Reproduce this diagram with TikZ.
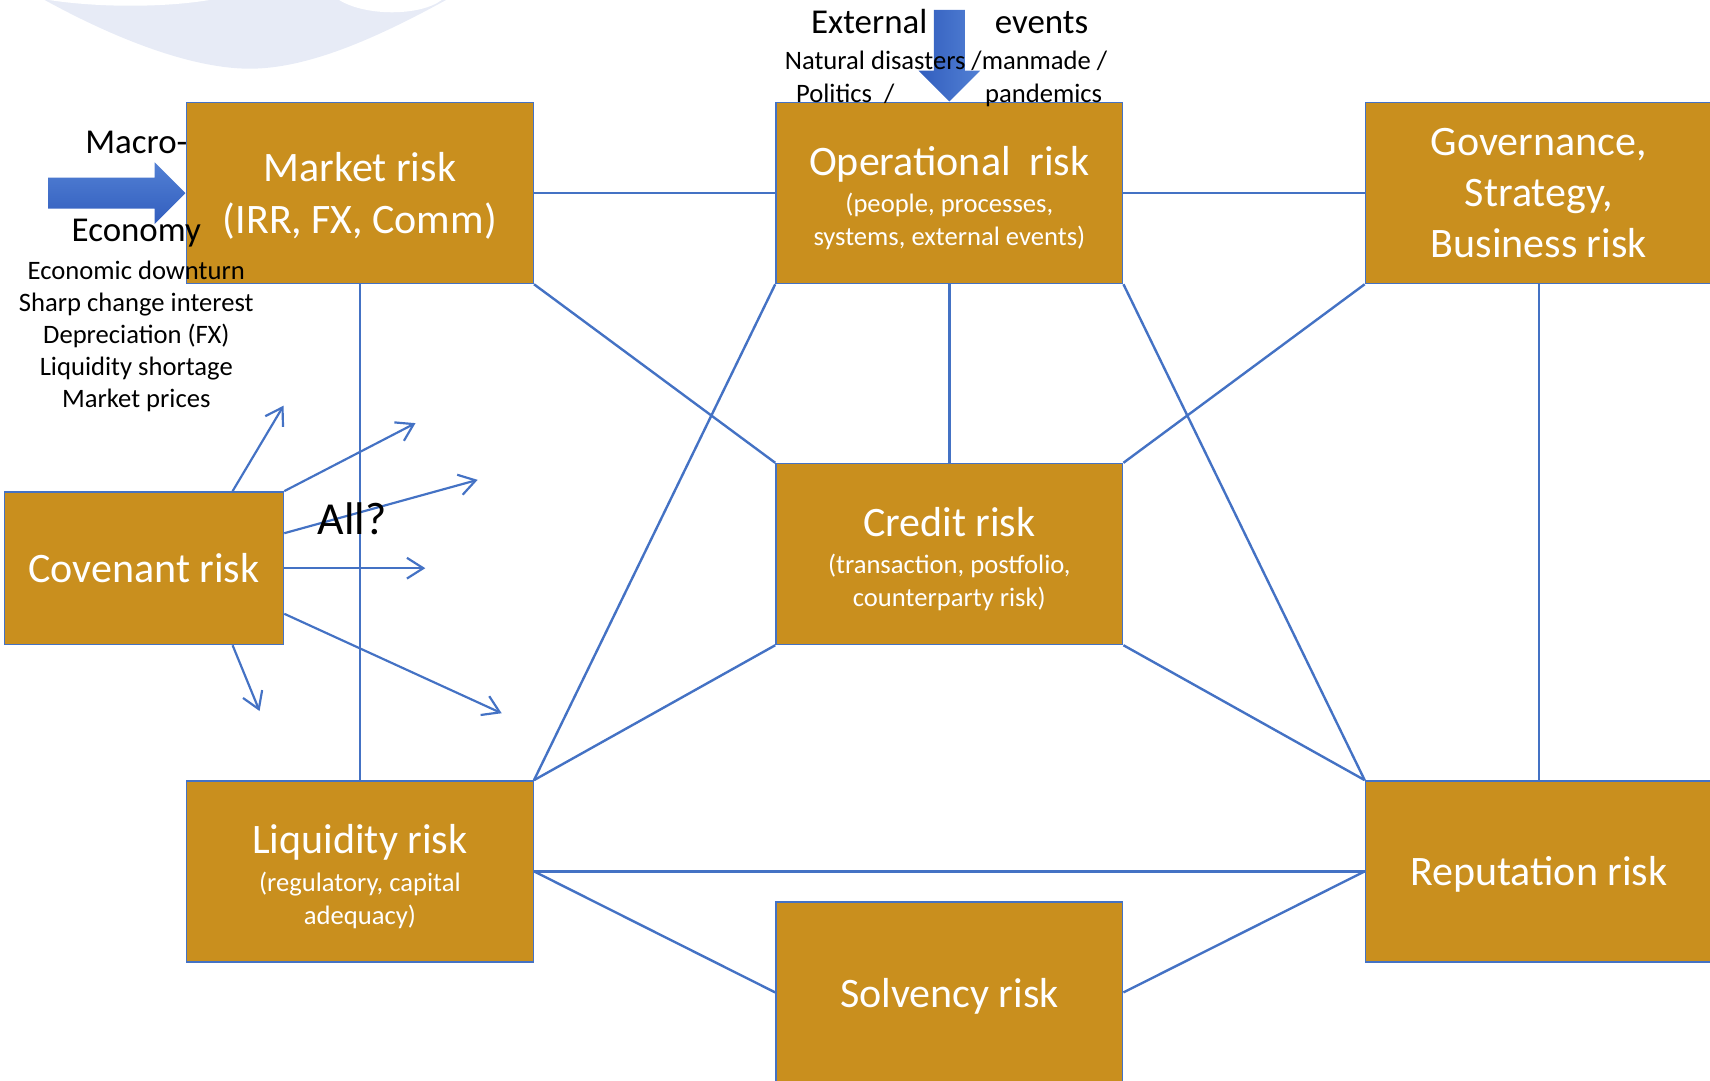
\documentclass[tikz,border=0pt]{standalone}
\usepackage{fontspec}
\setmainfont{Carlito}
\usepackage{tikz}
\usetikzlibrary{arrows.meta,shapes.arrows}
\definecolor{riskgold}{RGB}{201,143,30}
\definecolor{linkblue}{RGB}{68,114,196}
\definecolor{arrowdark}{RGB}{50,94,190}
\definecolor{arrowlight}{RGB}{82,128,212}
\definecolor{wmark}{RGB}{231,235,246}
\newcommand\riskfont{\fontsize{38.5}{47}\selectfont}
\newcommand\riskdetail[1]{{\fontsize{24.4}{30}\selectfont #1}}
\newcommand\riskhead[1]{\rule{0pt}{32pt}#1}
\tikzset{%
  riskbox/.style  = {shape=rectangle, draw=linkblue, line width=1.3pt,%
                     fill=riskgold, text=white, align=center, text depth=0pt,%
                     minimum width=318pt, minimum height=166pt, font=\riskfont},%
  smallbox/.style = {riskbox, minimum width=256pt, minimum height=140pt},%
  link/.style     = {draw=linkblue, line width=2.2pt},%
  spread/.style   = {draw=linkblue, line width=2pt,%
                     -{Straight Barb[length=15pt,width=19pt]}},%
  bigarrow/.style = {shape=single arrow, draw=none, inner sep=14pt,%
                     single arrow head extend=14pt, minimum width=56pt},%
  caption/.style  = {font=\fontsize{32}{38}\selectfont, anchor=base},%
  remark/.style   = {font=\fontsize{24.4}{29.3}\selectfont, align=center}%
}

\begin{document}
\begin{tikzpicture}[x=1pt,y=-1pt,
	every node/.style = {inner sep=0pt}]
	\clip (0,0) rectangle (1568,991);
	% faint logo in the corner
	\fill[wmark] (41,0) .. controls (111,38.5) and (179,63) .. (229,63)
		.. controls (279,63) and (339,38.5) .. (409,0) -- cycle;
	\fill[white] (45,0) .. controls (90,7) and (150,7) .. (192,0) -- cycle;
	\fill[white] (311,0) .. controls (335,15) and (385,15) .. (405,0) -- cycle;

	\node[riskbox] (market) at (330,177) {Market risk\\(IRR, FX, Comm)};
	\node[riskbox] (oprisk) at (870.5,177) {\riskhead{Operational\ \ risk}\\[-13pt]%
		\riskdetail{(people, processes,}\\[-16pt]\riskdetail{systems, external events)}};
	\node[riskbox] (govern) at (1411,177) {Governance,\\Strategy,\\Business risk};
	\node[smallbox] (covenant) at (132,521) {Covenant risk};
	\node[riskbox] (credit) at (870.5,508) {\riskhead{Credit risk}\\[-13pt]%
		\riskdetail{(transaction, postfolio,}\\[-16pt]\riskdetail{counterparty risk)}};
	\node[riskbox] (liquid) at (330,799) {\riskhead{Liquidity risk}\\[-12pt]%
		\riskdetail{(regulatory, capital}\\[-17pt]\riskdetail{adequacy)}};
	\node[riskbox] (reput) at (1411,799) {Reputation risk};
	\node[riskbox] (solv) at (870.5,910) {Solvency risk};

	\draw[link] (market.east) -- (oprisk.west);
	\draw[link] (oprisk.east) -- (govern.west);
	\draw[link] (market.south) -- (liquid.north);
	\draw[link] (market.south east) -- (credit.north west);
	\draw[link] (oprisk.south west) -- (liquid.north east);
	\draw[link] (oprisk.south) -- (credit.north);
	\draw[link] (oprisk.south east) -- (reput.north west);
	\draw[link] (govern.south west) -- (credit.north east);
	\draw[link] (govern.south) -- (reput.north);
	\draw[link] (credit.south west) -- (liquid.north east);
	\draw[link] (credit.south east) -- (reput.north west);
	\draw[link] (liquid.east) -- (reput.west);
	\draw[link] (liquid.east) -- (solv.west);
	\draw[link] (solv.east) -- (reput.west);

	\coordinate (tipnn) at (260,372);
	\coordinate (tipne) at (381,388);
	\coordinate (tipene) at (438,440);
	\coordinate (tipe) at (390,521);
	\coordinate (tipse) at (460,654);
	\coordinate (tips) at (238,652);
	\draw[spread] (covenant.41.2) -- (tipnn);
	\draw[spread] (covenant.north east) -- (tipne);
	\draw[spread] (covenant.14.5) -- (tipene);
	\draw[spread] (covenant.east) -- (tipe);
	\draw[spread] (covenant.-18.2) -- (tipse);
	\draw[spread] (covenant.-41.2) -- (tips);

	\node[bigarrow, minimum height=126pt, top color=arrowlight,
		bottom color=arrowdark, anchor=tip] (macroarrow) at (market.west) {};
	\node[bigarrow, minimum height=84pt, shape border rotate=270,
		left color=arrowdark, right color=arrowlight, anchor=tip] (eventarrow) at (oprisk.north) {};

	\node[caption] (macro) at (125,140.5) {Macro-};
	\node[caption] (econ) at (125,221.6) {Economy};
	\node[remark] (drivers) at (125,308.5) {Economic downturn\\Sharp change interest\\%
		Depreciation (FX)\\Liquidity shortage\\Market prices};
	\node[caption] (extl) at (797,30.6) {External};
	\node[caption] (evts) at (955,30.6) {events};
	\node[remark, anchor=base] (disast) at (867.5,64) {Natural disasters /manmade /};
	\node[remark, anchor=base] (polit) at (775,93.7) {Politics\ \ /};
	\node[remark, anchor=base] (pandem) at (957,93.7) {pandemics};
	\node[caption, font=\fontsize{42}{50}\selectfont] (allq) at (323,489.7) {All?};
\end{tikzpicture}
\end{document}
